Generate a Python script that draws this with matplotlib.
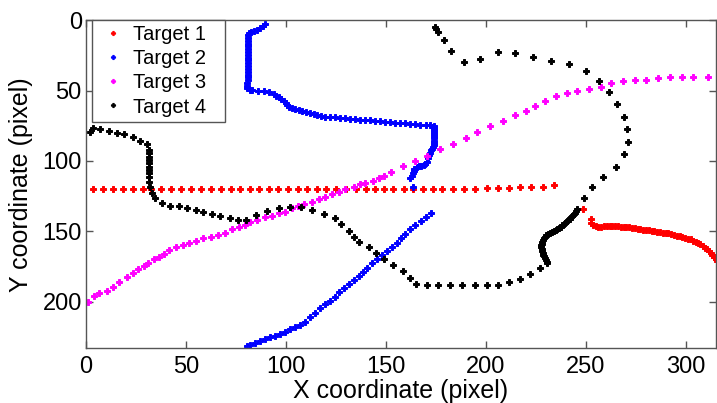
import matplotlib
matplotlib.use('Agg')
import matplotlib.pyplot as plt

# tracked positions of four targets, in image pixel coordinates
t1_x = [3.4, 8.4, 13.4, 18.4, 23.4, 28.4, 32.7, 37.7, 42.4, 47.4, 52.4, 57.4, 62.4,
        67.4, 72.4, 77.1, 81.8, 86.5, 91.5, 96.1, 100.8, 105.8, 110.5, 115.5, 120.2,
        125.2, 130.2, 135.0, 139.8, 144.5, 149.2, 153.6, 158.9, 163.6, 168.6, 173.3,
        178.1, 183.4, 189.1, 194.6, 200.6, 205.8, 211.7, 216.8, 222.7, 228.7, 234.0,
        248.3,
        252.4, 252.7, 253.5, 254.8, 256.2, 257.6, 259.0, 260.4, 261.8, 263.2, 264.6,
        266.0, 267.4, 268.8, 270.2, 271.6, 273.0, 274.4, 275.8, 277.2, 278.6, 280.0,
        281.4, 282.8, 284.2, 285.6, 287.0, 288.4, 289.8, 291.2, 292.6, 294.0, 295.4,
        296.8, 298.2, 299.6, 301.0, 302.4, 303.6, 304.8, 306.0, 307.2, 308.4, 309.4,
        310.4, 311.4, 312.3, 313.2, 314.0, 314.8, 315.6, 316.4]
t1_y = [119.7, 119.7, 119.8, 119.7, 119.8, 119.7, 119.7, 119.8, 119.7, 119.8, 119.7,
        119.8, 119.7, 119.8, 119.8, 119.7, 119.8, 119.8, 119.7, 119.8, 119.8, 119.7,
        119.8, 119.8, 119.7, 119.8, 120.0, 120.0, 120.1, 120.0, 120.1, 120.1, 120.1,
        119.9, 119.9, 119.9, 119.9, 119.8, 119.7, 119.7, 119.2, 119.2, 119.0, 118.3,
        118.3, 118.2, 117.3,
        134.2,
        141.5, 143.9, 145.4, 146.3, 146.7, 146.7, 146.5, 146.3, 146.2, 146.2, 146.2,
        146.4, 146.6, 146.8, 147.0, 147.3, 147.6, 147.9, 148.2, 148.5, 148.8, 149.1,
        149.4, 149.7, 150.0, 150.3, 150.6, 150.9, 151.2, 151.5, 152.0, 152.5, 153.0,
        153.5, 154.0, 154.6, 155.2, 155.8, 156.6, 157.5, 158.4, 159.3, 160.4, 161.6,
        162.8, 164.0, 165.3, 166.6, 168.0, 169.4, 170.8, 172.2]

t2_x = [89.6, 88.4, 87.1, 85.5, 83.8, 82.4, 81.3, 80.9, 80.8, 80.8, 80.8, 80.8, 80.8,
        80.8, 80.8, 80.8, 80.8, 80.8, 80.8, 80.8, 80.8, 80.8, 80.8, 80.8, 80.6, 80.5,
        80.5, 81.8, 83.0, 85.8, 88.8, 91.3, 93.8, 95.0, 96.3, 97.5, 98.8, 99.8, 100.6,
        101.3, 103.0, 104.7, 106.4, 108.0, 110.0, 112.2, 113.8, 115.5, 117.6, 119.7,
        122.2, 124.7, 127.2, 129.7, 132.2, 134.7, 137.2, 139.7, 142.2, 144.7, 147.2,
        149.7, 152.2, 154.7, 157.2, 159.7, 162.2, 164.7, 167.2, 169.8, 172.0, 174.0,
        174.0, 174.0, 174.0, 174.0, 174.0, 174.0, 174.0, 174.0, 174.0, 173.6, 172.8,
        172.3, 171.8, 171.4, 171.0, 170.6, 169.6, 168.9, 167.6, 166.4, 165.3, 164.2,
        163.8, 163.5, 162.8, 162.2, 163.4,
        172.3, 169.8, 167.3, 164.7, 162.2, 159.7, 157.7, 155.6, 153.1, 150.6, 148.1,
        145.6, 143.1, 140.6, 138.4, 136.4, 133.9, 131.3, 128.8, 126.7, 124.3, 121.8,
        119.3, 117.2, 114.7, 112.2, 109.7, 107.2, 104.7, 102.2, 99.6, 97.1, 94.6,
        92.1, 89.6, 87.1, 84.6, 82.1, 80.5]
t2_y = [2.6, 4.2, 5.6, 6.5, 7.3, 8.0, 8.7, 10.5, 12.5, 14.5, 16.5, 18.5, 20.5, 22.5,
        24.5, 26.5, 28.5, 30.5, 32.5, 34.5, 36.5, 38.5, 40.5, 42.5, 44.5, 46.5, 48.3,
        49.2, 49.5, 50.0, 50.0, 50.7, 52.3, 53.5, 54.7, 55.9, 57.1, 58.8, 60.2, 61.4,
        62.2, 62.8, 63.5, 64.2, 64.9, 65.6, 66.4, 67.1, 67.8, 68.5, 68.7, 68.9, 69.3,
        69.6, 69.8, 70.1, 70.5, 70.8, 71.2, 71.5, 71.7, 72.0, 72.4, 72.7, 73.0, 73.2,
        73.6, 73.9, 74.1, 74.4, 74.7, 74.9, 76.5, 78.0, 79.5, 81.0, 82.5, 84.0, 85.5,
        87.0, 88.5, 89.8, 91.2, 92.2, 94.0, 95.7, 98.1, 100.5, 101.8, 102.8, 103.4,
        103.6, 104.6, 105.9, 107.3, 108.7, 110.5, 112.3, 118.3,
        136.8, 139.6, 142.7, 145.5, 148.6, 151.9, 155.0, 158.1, 160.9, 164.0, 166.9,
        169.9, 172.8, 175.9, 178.7, 181.8, 184.6, 187.7, 190.5, 193.4, 196.5, 199.4,
        201.9, 204.8, 207.9, 211.2, 214.3, 216.6, 218.3, 219.7, 221.4, 223.0, 224.3,
        225.4, 226.6, 227.8, 229.2, 230.9, 231.6]

t3_x = [0.8, 4.2, 6.7, 10.4, 13.7, 16.7, 20.4, 23.4, 25.9, 29.2, 30.9, 33.9, 36.7,
        39.2, 41.7, 45.1, 48.4, 51.7, 55.1, 58.7, 62.6, 65.9, 69.3, 72.8, 76.5, 79.3,
        82.1, 85.5, 89.6, 93.0, 96.3, 99.6, 103.0, 105.8, 108.8, 113.0, 116.3, 119.7,
        123.0, 126.4, 129.7, 133.9, 136.9, 139.7, 143.6, 146.5, 148.9, 152.7, 158.6,
        164.7, 170.6, 176.9, 183.6, 189.8, 195.6, 201.8, 208.5, 214.5, 219.8, 224.5,
        229.7, 235.2, 240.4, 245.7, 251.4, 257.5, 262.5, 268.4, 274.4, 279.9, 285.9,
        291.9, 297.8, 303.5, 311.0]
t3_y = [200.5, 196.0, 193.7, 192.2, 189.8, 185.8, 182.7, 179.9, 177.0, 174.7, 172.8,
        169.9, 168.1, 166.1, 163.3, 161.4, 159.7, 158.1, 156.7, 155.0, 153.8, 152.6,
        151.0, 148.6, 146.7, 145.5, 143.6, 142.0, 140.0, 138.9, 137.2, 136.1, 133.6,
        132.0, 130.6, 128.9, 127.2, 125.4, 123.5, 121.8, 120.2, 118.3, 116.4, 115.4,
        114.0, 112.0, 110.4, 107.6, 103.6, 99.8, 96.2, 91.5, 87.7, 83.4, 79.2, 74.9,
        71.6, 67.5, 64.4, 61.1, 57.3, 54.0, 51.4, 50.0, 48.6, 47.6, 44.5, 43.1, 42.2,
        42.2, 41.2, 40.5, 40.5, 40.5, 40.5]

t4_x = [174.3, 175.0, 175.9, 178.9, 182.3, 188.8, 196.8, 205.8, 214.3, 223.3, 232.3,
        241.5, 249.9, 256.5, 261.6, 265.7, 268.8, 270.5, 270.8, 269.1, 265.0, 258.7,
        253.2, 249.0, 245.7,
        245.0, 244.4, 243.8, 243.2, 242.5, 241.8, 241.1, 240.4, 239.7, 239.0, 238.2,
        237.4, 236.6, 235.7, 234.8, 233.8, 232.8, 231.8, 230.9, 230.1, 229.4, 228.8,
        228.3, 228.0, 227.8, 227.7, 227.7, 227.8, 228.0, 228.3, 228.6, 228.9, 229.3,
        229.8, 230.3, 230.7,
        227.0, 222.0, 216.8, 211.5, 206.2, 200.3, 194.3, 188.1, 181.9, 176.1, 170.3,
        165.1, 162.2, 158.4, 153.6, 149.2, 145.2, 141.4, 136.7, 134.2, 131.3, 127.7,
        124.3, 118.8, 113.0, 107.7, 102.2, 96.3, 90.5, 85.1, 80.1, 75.8, 71.8, 67.1,
        62.9, 58.7, 55.1, 50.7, 46.7, 42.1, 37.9, 34.6, 32.9, 32.0, 31.7, 31.7, 31.7,
        31.7, 31.7, 31.7, 31.7, 31.7, 31.7, 31.7, 30.4, 27.0, 23.4, 19.0, 15.4, 11.7,
        7.0, 3.4, 2.0]
t4_y = [4.9, 6.2, 8.0, 13.9, 22.0, 29.8, 27.7, 22.5, 23.0, 25.8, 28.9, 31.0, 35.8,
        42.9, 50.9, 59.5, 68.5, 77.5, 86.3, 95.2, 104.0, 111.6, 118.7, 126.5, 134.4,
        135.6, 136.8, 138.0, 139.0, 140.0, 141.0, 142.0, 143.0, 144.0, 145.0, 145.8,
        146.6, 147.4, 148.2, 148.9, 149.5, 150.2, 151.0, 151.8, 152.8, 153.9, 155.0,
        156.2, 157.5, 158.8, 160.1, 161.4, 162.7, 164.0, 165.3, 166.6, 167.9, 169.2,
        170.5, 171.7, 172.8,
        176.3, 180.6, 184.1, 186.3, 188.0, 188.0, 188.0, 188.0, 188.0, 188.0, 188.0,
        187.5, 183.0, 178.2, 174.2, 169.9, 165.7, 161.4, 157.8, 153.8, 149.6, 144.8,
        140.8, 137.9, 134.8, 132.5, 132.5, 133.6, 135.3, 138.5, 142.2, 142.0, 140.8,
        139.1, 137.9, 136.5, 134.8, 133.2, 132.0, 132.0, 130.1, 126.5, 123.0, 118.7,
        114.7, 111.2, 108.8, 106.4, 104.0, 101.6, 99.2, 96.9, 94.5, 92.2, 87.9, 85.6,
        82.7, 80.8, 79.9, 78.4, 77.2, 76.7, 79.2]

plt.rcParams['font.family'] = ['Liberation Sans', 'DejaVu Sans']

fig = plt.figure(figsize=(7.17, 4.03), dpi=100)
ax = fig.add_axes([0.1199, 0.1365, 0.8787, 0.8129])

ms = 5.0
for xs, ys, c, name in [(t1_x, t1_y, '#ff0000', 'Target 1'),
                        (t2_x, t2_y, '#0000ff', 'Target 2'),
                        (t3_x, t3_y, '#ff00ff', 'Target 3'),
                        (t4_x, t4_y, '#000000', 'Target 4')]:
    ax.plot(xs, ys, 'P', color=c, mec=c, ms=ms, mew=0.7, label=name)

ax.set_xlim(0, 315)
ax.set_ylim(233, 0)
ax.set_xticks([0, 50, 100, 150, 200, 250, 300])
ax.set_yticks([0, 50, 100, 150, 200])

for s in ax.spines.values():
    s.set_color('#555555')
    s.set_linewidth(1)
ax.tick_params(direction='in', length=5, width=1, color='#555555',
               top=True, right=True, labelsize=17)
ax.tick_params(axis='x', pad=5.5)
ax.tick_params(axis='y', pad=3)

ax.set_xlabel('X coordinate (pixel)', fontsize=18)
ax.set_ylabel('Y coordinate (pixel)', fontsize=18)
ax.xaxis.set_label_coords(0.5, -0.094)
ax.yaxis.set_label_coords(-0.084, 0.5)

# legend box stretched to a fixed width, text left-aligned
leg = ax.legend(loc='upper left', bbox_to_anchor=(0.0095, 0.0, 0.211, 1.0),
                mode='expand', borderaxespad=0,
                fontsize=14.5, fancybox=False, framealpha=1, edgecolor='#555555',
                markerscale=0.6, handlelength=1.6, handletextpad=0.2,
                labelspacing=0.25, borderpad=0.25)
leg.get_frame().set_linewidth(1)

fig.savefig('out.png', dpi=100)
